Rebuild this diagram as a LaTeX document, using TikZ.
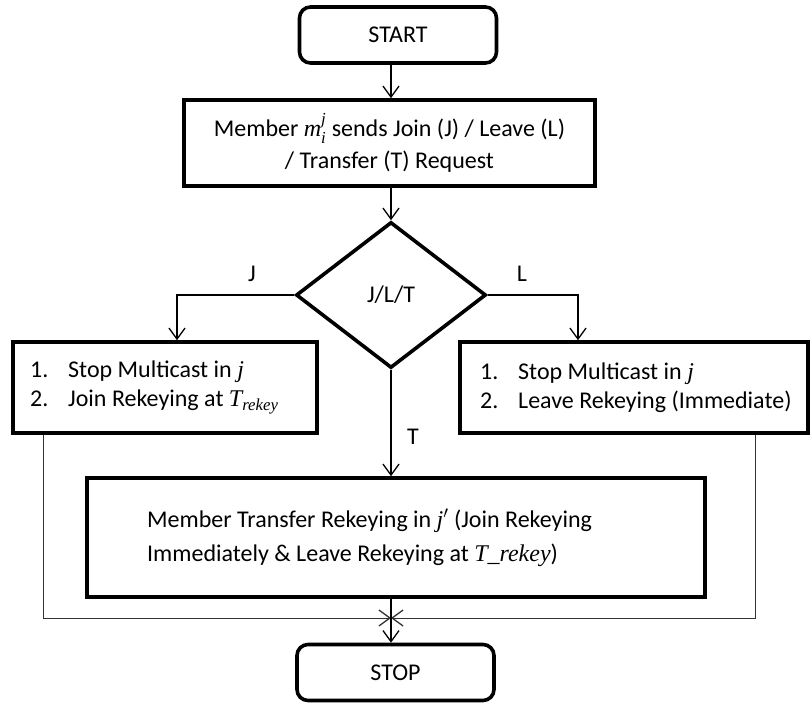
\documentclass[tikz,border=0pt]{standalone}
\usepackage{amsmath}
\usepackage{fontspec}
\setmainfont{Carlito}
\newfontfamily\mathletters{Liberation Serif}
\usetikzlibrary{arrows.meta,shapes.geometric}
\newcommand{\itm}[1]{\makebox[38pt][l]{#1}}
\newcommand{\mv}[1]{\text{\mathletters\itshape #1}}
\begin{document}
\begin{tikzpicture}[x=1pt,y=-1pt,
  font=\fontsize{24}{31}\selectfont,
  box/.style={draw,line width=3.6pt,rectangle,inner sep=0pt},
  term/.style={box,rounded corners=11pt,minimum width=197pt,minimum height=56pt},
  decision/.style={draw,diamond,line width=3.6pt,inner sep=0pt,minimum width=190pt,minimum height=146pt},
  txt/.style={anchor=west,align=left,inner sep=0pt},
  barb/.style={-{Straight Barb[length=11pt,width=16pt,line width=1.3pt]}},
  flow/.style={barb,line width=1.3pt},
  merge/.style={barb,line width=1pt,draw=black!80},
  lbl/.style={inner sep=1pt},
]
\useasboundingbox (0,0) rectangle (811,704);

% boxes
\node[term] (start) at (398,35) {START};
\node[box,minimum width=411pt,minimum height=86pt,align=center,font=\fontsize{24}{32}\selectfont] (req) at (389.5,143)
  {Member $\mv{m}_{\mv{i}}^{\mv{j}}$ sends Join (J) / Leave (L)\\/ Transfer (T) Request};
\node[decision] (dec) at (391,295) {J/L/T};
\node[box,minimum width=304pt,minimum height=91pt] (joinbox) at (165,387.5) {};
\node[box,minimum width=348pt,minimum height=91pt] (leavebox) at (634,387.5) {};
\node[box,minimum width=618pt,minimum height=119pt] (xfer) at (396,537.5) {};
\node[term] (stop) at (395.5,672.5) {STOP};

% box texts
\node[txt,font=\fontsize{24}{29.5}\selectfont] (jointext) at (30,387.5)
  {\itm{1.}Stop Multicast in \mv{j}\\\itm{2.}Join Rekeying at $\mv{T}_{\mv{rekey}}$};
\node[txt,font=\fontsize{24}{29.5}\selectfont] (leavetext) at (480,387.5)
  {\itm{1.}Stop Multicast in \mv{j}\\\itm{2.}Leave Rekeying (Immediate)};
\node[txt,font=\fontsize{24}{34}\selectfont] (xfertext) at (147,538)
  {Member Transfer Rekeying in \mv{j}$'$ (Join Rekeying\\Immediately \& Leave Rekeying at \mv{T\_rekey})};

% branch labels
\node[lbl] (lj) at (252,274) {J};
\node[lbl] (ll) at (522,274) {L};
\node[lbl] (lt) at (413,437) {T};

% turning points
\coordinate (jturn) at (177,295);
\coordinate (lturn) at (578,295);
\coordinate (mleft) at (43,618);
\coordinate (mright) at (755,618);

% connectors
\draw[flow] (start.south -| dec) -- (req.north -| dec);
\draw[flow] (req.south -| dec) -- (dec.north);
\draw[flow] (dec.west) -- (jturn) -- (jturn |- joinbox.north);
\draw[flow] (dec.east) -- (lturn) -- (lturn |- leavebox.north);
\draw[flow] (dec.south) -- (xfer.north -| dec);
\draw[merge] (joinbox.south -| mleft) -- (mleft) -- (mleft -| dec);
\draw[merge] (leavebox.south -| mright) -- (mright) -- (mright -| dec);
\draw[flow] (xfer.south -| dec) -- (stop.north -| dec);
\end{tikzpicture}
\end{document}
